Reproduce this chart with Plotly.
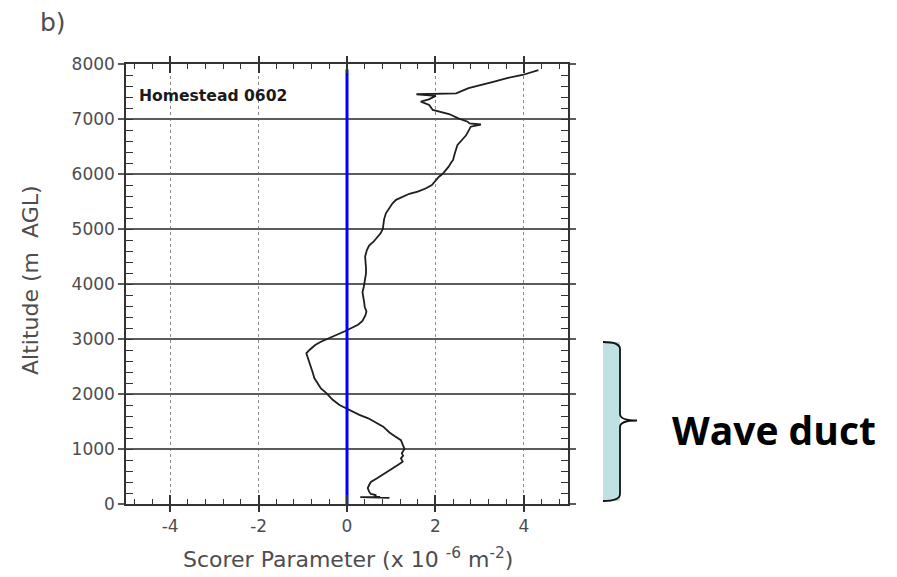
import plotly.graph_objects as go

# Scorer parameter profile (x 10^-6 m^-2) against altitude (m AGL)
altitude = [110, 125, 130, 135, 160, 182, 224, 290, 345, 400, 467, 530, 588, 650, 709,
            770, 830, 880, 921, 1000, 1103, 1160, 1224, 1300, 1406, 1480, 1558, 1620,
            1679, 1740, 1800, 1900, 2012, 2100, 2194, 2290, 2376, 2470, 2558, 2650,
            2740, 2800, 2891, 2950, 3012, 3073, 3140, 3200, 3260, 3330, 3436, 3500,
            3587, 3660, 3740, 3850, 3951, 4070, 4194, 4290, 4376, 4500, 4618, 4700,
            4769, 4850, 4922, 5000, 5073, 5180, 5285, 5380, 5467, 5530, 5588, 5640,
            5679, 5740, 5800, 5880, 5951, 6000, 6073, 6133, 6200, 6255, 6350, 6436,
            6530, 6618, 6700, 6770, 6860, 6900, 6909, 6920, 6951, 7012, 7090, 7164,
            7255, 7315, 7358, 7380, 7420, 7450, 7455, 7467, 7560, 7620, 7680, 7740,
            7800, 7890, 8000]
scorer = [0.96, 0.30, 0.75, 0.62, 0.66, 0.54, 0.50, 0.47, 0.50, 0.54, 0.68, 0.81,
          0.92, 1.03, 1.15, 1.26, 1.22, 1.27, 1.24, 1.30, 1.24, 1.22, 1.10, 0.96, 0.82,
          0.66, 0.48, 0.28, 0.13, -0.02, -0.17, -0.33, -0.46, -0.59, -0.67, -0.74,
          -0.77, -0.81, -0.84, -0.89, -0.92, -0.85, -0.72, -0.59, -0.40, -0.22, -0.05,
          0.10, 0.25, 0.35, 0.42, 0.44, 0.40, 0.39, 0.37, 0.35, 0.38, 0.41, 0.43, 0.43,
          0.42, 0.41, 0.45, 0.50, 0.60, 0.69, 0.76, 0.81, 0.82, 0.84, 0.88, 0.96, 1.03,
          1.11, 1.25, 1.41, 1.60, 1.79, 1.92, 2.01, 2.08, 2.16, 2.24, 2.30, 2.35, 2.40,
          2.43, 2.46, 2.50, 2.60, 2.69, 2.74, 2.80, 3.03, 2.78, 2.77, 2.73, 2.52, 2.31,
          1.94, 1.86, 1.67, 1.85, 1.90, 2.01, 1.57, 2.01, 2.47, 2.75, 3.07, 3.33, 3.60,
          3.97, 4.33]

# Zero reference line
zero_x = [0, 0]
zero_alt = [0, 7900]

x_tick_vals = [-4, -2, 0, 2, 4]
x_tick_text = ["-4", "-2", "0", "2", "4"]
y_tick_vals = [0, 1000, 2000, 3000, 4000, 5000, 6000, 7000, 8000]
y_tick_text = ["0", "1000", "2000", "3000", "4000", "5000", "6000", "7000", "8000"]

W, H = 897, 577
L, R, T, B = 126, 568, 64, 504


def px(x):
    return (x - L) / (R - L)


def py(y):
    return (B - y) / (B - T)


TXT = "#4d4d4d"
GRID = "#5c5c5c"
FRAME = "#333333"
FONT = "DejaVu Sans"

fig = go.Figure()
fig.add_trace(go.Scatter(x=scorer, y=altitude, mode="lines",
                         line=dict(color="#1e1e1e", width=1.8),
                         xaxis="x", yaxis="y", showlegend=False, hoverinfo="skip"))
fig.add_trace(go.Scatter(x=zero_x, y=zero_alt, mode="lines",
                         line=dict(color="#0000ff", width=3),
                         xaxis="x2", yaxis="y2", showlegend=False, hoverinfo="skip"))

fig.update_layout(
    width=W, height=H,
    margin=dict(l=L, r=W - R, t=T, b=H - B),
    paper_bgcolor="white", plot_bgcolor="white",
    font=dict(family=FONT, color=TXT),
    xaxis=dict(range=[-5, 5], tickmode="array", tickvals=x_tick_vals,
               ticktext=x_tick_text,
               ticks="outside", ticklen=6, tickwidth=1.5, tickcolor=FRAME,
               showline=True, linecolor=FRAME, linewidth=1.5, mirror="ticks",
               showgrid=True, gridcolor="#8a8a8a", griddash="dot", gridwidth=1,
               zeroline=False, tickfont=dict(size=17, color=TXT), anchor="y"),
    xaxis2=dict(range=[-5, 5], overlaying="x", matches="x", anchor="y2",
                tickmode="linear", tick0=0, dtick=2,
                ticks="inside", ticklen=9, tickwidth=1.5, tickcolor=FRAME,
                mirror="ticks", showline=False, showgrid=False, zeroline=False,
                showticklabels=False,
                minor=dict(ticks="inside", ticklen=5, tickwidth=1.3, tickcolor=FRAME,
                           tick0=0, dtick=0.4, showgrid=False)),
    yaxis=dict(range=[0, 8000], tickmode="array", tickvals=y_tick_vals,
               ticktext=y_tick_text,
               ticks="outside", ticklen=6, tickwidth=2, tickcolor=GRID,
               showline=True, linecolor=FRAME, linewidth=1.5, mirror="ticks",
               showgrid=True, gridcolor=GRID, gridwidth=2,
               zeroline=False, tickfont=dict(size=17, color=TXT), anchor="x"),
    yaxis2=dict(range=[0, 8000], overlaying="y", matches="y", anchor="x2",
                tickmode="linear", tick0=0, dtick=1000,
                ticks="inside", ticklen=7, tickwidth=1.3, tickcolor=FRAME,
                mirror="ticks", showline=False, showgrid=False, zeroline=False,
                showticklabels=False,
                minor=dict(ticks="inside", ticklen=7, tickwidth=1.3, tickcolor=FRAME,
                           tick0=0, dtick=200, showgrid=False)),
)

# Panel label, station label and axis titles
fig.add_annotation(x=px(38), y=py(23), xref="paper", yref="paper", text="b)",
                   showarrow=False, xanchor="left", yanchor="middle",
                   font=dict(size=25, color=TXT, family=FONT))
fig.add_annotation(x=px(137), y=py(96), xref="paper", yref="paper",
                   text="<b>Homestead 0602</b>", showarrow=False,
                   xanchor="left", yanchor="middle",
                   font=dict(size=15.6, color="#1a1a1a", family=FONT))
fig.add_annotation(x=px(30), y=py(280), xref="paper", yref="paper",
                   text="Altitude (m\u00a0\u00a0AGL)", textangle=-90, showarrow=False,
                   xanchor="center", yanchor="middle",
                   font=dict(size=22, color=TXT, family=FONT))
fig.add_annotation(x=px(348), y=py(558), xref="paper", yref="paper",
                   text="Scorer Parameter (x 10 <sup>-6</sup> m<sup>-2</sup>)",
                   showarrow=False, xanchor="center", yanchor="middle",
                   font=dict(size=22, color=TXT, family=FONT))

# Wave duct bracket
fig.add_shape(type="rect", xref="paper", yref="paper",
              x0=px(603), x1=px(620), y0=py(501), y1=py(342),
              fillcolor="#bfe1e3", line=dict(width=0), layer="above")
brace = (f"M {px(603)},{py(342)} Q {px(620)},{py(342)} {px(620)},{py(349)} "
         f"L {px(620)},{py(414)} Q {px(620)},{py(420.5)} {px(637)},{py(420.5)} "
         f"Q {px(620)},{py(420.5)} {px(620)},{py(427)} "
         f"L {px(620)},{py(494)} Q {px(620)},{py(501)} {px(603)},{py(501)}")
fig.add_shape(type="path", xref="paper", yref="paper", path=brace,
              line=dict(color="#111111", width=1.8), layer="above")
fig.add_annotation(x=px(670), y=py(429), xref="paper", yref="paper",
                   text="<b>Wave duct</b>", showarrow=False,
                   xanchor="left", yanchor="middle",
                   font=dict(size=39, color="#000000", family="Open Sans"))

fig.write_html("out.html")
